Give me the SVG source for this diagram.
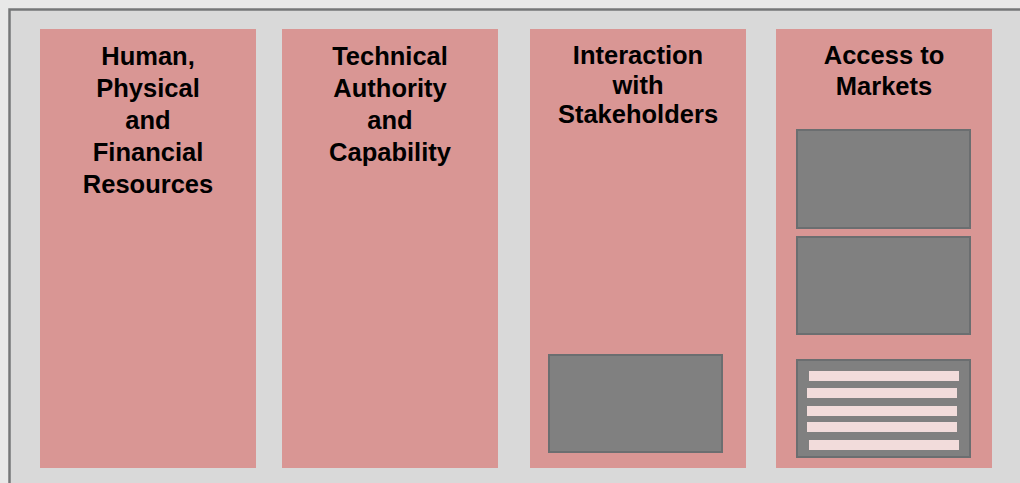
<svg xmlns="http://www.w3.org/2000/svg" width="1020" height="483" viewBox="0 0 1020 483">
<style>
.col{fill:#d99694}
.box{fill:#808080;stroke:#6b6e70;stroke-width:2}
.bar{fill:#f2dcdb}
.t{font-family:"Liberation Sans",Arial,sans-serif;font-weight:bold;font-size:25.5px;fill:#000;text-anchor:middle}
</style>
<rect x="0" y="0" width="1020" height="483" fill="#e8e8e8"/>
<rect x="9.5" y="9.5" width="1030" height="490" fill="#d9d9d9" stroke="#757778" stroke-width="2.5"/>
<g id="node-human">
<rect class="col" x="40" y="29" width="216" height="439"/>
<text class="t"><tspan x="148" y="65">Human,</tspan><tspan x="148" y="97">Physical</tspan><tspan x="148" y="129">and</tspan><tspan x="148" y="161">Financial</tspan><tspan x="148" y="193">Resources</tspan></text>
</g>
<g id="node-technical">
<rect class="col" x="282" y="29" width="216" height="439"/>
<text class="t"><tspan x="390" y="65">Technical</tspan><tspan x="390" y="97">Authority</tspan><tspan x="390" y="129">and</tspan><tspan x="390" y="161">Capability</tspan></text>
</g>
<g id="node-interaction">
<rect class="col" x="530" y="29" width="216" height="439"/>
<text class="t"><tspan x="638" y="64">Interaction</tspan><tspan x="638" y="94">with</tspan><tspan x="638" y="123">Stakeholders</tspan></text>
<rect class="box" x="549" y="355" width="173" height="97"/>
</g>
<g id="node-access">
<rect class="col" x="776" y="29" width="216" height="439"/>
<text class="t"><tspan x="884" y="64">Access to</tspan><tspan x="884" y="95">Markets</tspan></text>
<rect class="box" x="797" y="130" width="173" height="98"/>
<rect class="box" x="797" y="237" width="173" height="97"/>
<rect class="box" x="797" y="360" width="173" height="97"/>
<rect class="bar" x="809" y="371" width="150" height="10"/>
<rect class="bar" x="807" y="388" width="150" height="10"/>
<rect class="bar" x="807" y="406" width="150" height="10"/>
<rect class="bar" x="807" y="422" width="150" height="10"/>
<rect class="bar" x="809" y="440" width="150" height="10"/>
</g>
<g id="connectors"></g>
</svg>
